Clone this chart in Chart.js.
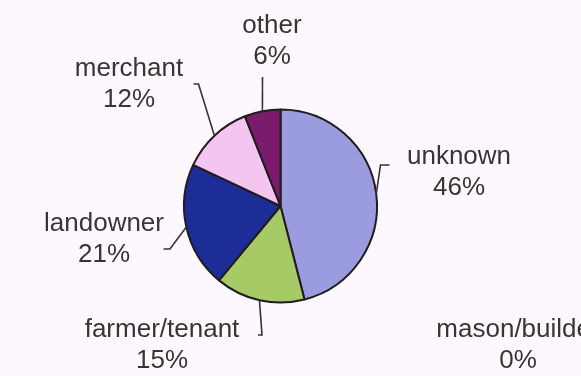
<!DOCTYPE html>
<html>
<head>
<meta charset="utf-8">
<script src="https://cdn.jsdelivr.net/npm/chart.js@4/dist/chart.umd.min.js"></script>
<style>
  html, body { margin: 0; padding: 0; background: #fcf8fd; }
  #wrap { width: 581px; height: 376px; position: relative; overflow: hidden; }
  canvas { display: block; }
</style>
</head>
<body>
<div id="wrap"><canvas id="c" width="581" height="376"></canvas></div>
<script>
// Occupation breakdown (percent of total)
const occupations = ['unknown', 'mason/builder', 'farmer/tenant', 'landowner', 'merchant', 'other'];
const shares = [46, 0, 15, 21, 12, 6];
const sliceColors = ['#9b9be0', '#f2e29c', '#a5ca66', '#1d2d98', '#f4c6ef', '#7a1c6b'];

// Label placement: text-block position and leader bend points, in px from the pie centre
const labelLayout = [
  { dx: 178.5,  dy: -42,  leader: [[100, -41], [109, -41]] },
  { dx: 237.5,  dy: 131,  leader: [] },
  { dx: -118.5, dy: 131,  leader: [[-18.5, 129], [-22.5, 129]] },
  { dx: -176.5, dy: 25,   leader: [[-110.5, 43], [-117, 43]] },
  { dx: -151.5, dy: -130, leader: [[-82, -122], [-87, -122]] },
  { dx: -8.5,   dy: -173, leader: [[-18, -129]] }
];

const LINE_GAP = 31;
const TEXT_FONT = '26px "Liberation Sans", Arial, sans-serif';
const TEXT_COLOR = '#3a3535';

const background = {
  id: 'background',
  beforeDraw(chart) {
    const ctx = chart.ctx;
    ctx.save();
    ctx.fillStyle = '#fcf8fd';
    ctx.fillRect(0, 0, chart.width, chart.height);
    ctx.restore();
  }
};

const sliceLabels = {
  id: 'sliceLabels',
  afterDatasetsDraw(chart) {
    const ctx = chart.ctx;
    const meta = chart.getDatasetMeta(0);
    ctx.save();
    meta.data.forEach((arc, i) => {
      const { x, y, startAngle, endAngle, outerRadius } = arc.getProps(['x', 'y', 'startAngle', 'endAngle', 'outerRadius'], true);
      const lay = labelLayout[i];
      const mid = (startAngle + endAngle) / 2;
      if (lay.leader.length) {
        ctx.beginPath();
        ctx.moveTo(x + Math.cos(mid) * outerRadius, y + Math.sin(mid) * outerRadius);
        lay.leader.forEach(([px, py]) => ctx.lineTo(x + px, y + py));
        ctx.strokeStyle = '#3a3232';
        ctx.lineWidth = 1.6;
        ctx.stroke();
      }
      ctx.font = TEXT_FONT;
      ctx.fillStyle = TEXT_COLOR;
      ctx.textAlign = 'center';
      ctx.textBaseline = 'alphabetic';
      ctx.fillText(occupations[i], x + lay.dx, y + lay.dy);
      ctx.fillText(shares[i] + '%', x + lay.dx, y + lay.dy + LINE_GAP);
    });
    ctx.restore();
  }
};

new Chart(document.getElementById('c'), {
  type: 'pie',
  data: {
    labels: occupations,
    datasets: [{
      data: shares,
      backgroundColor: sliceColors,
      borderColor: '#221c1e',
      borderWidth: 2
    }]
  },
  options: {
    responsive: false,
    devicePixelRatio: 1,
    animation: false,
    radius: 96.5,
    layout: { padding: { left: 0, right: 20, top: 36, bottom: 0 } },
    plugins: {
      legend: { display: false },
      tooltip: { enabled: false }
    }
  },
  plugins: [background, sliceLabels]
});
</script>
</body>
</html>
